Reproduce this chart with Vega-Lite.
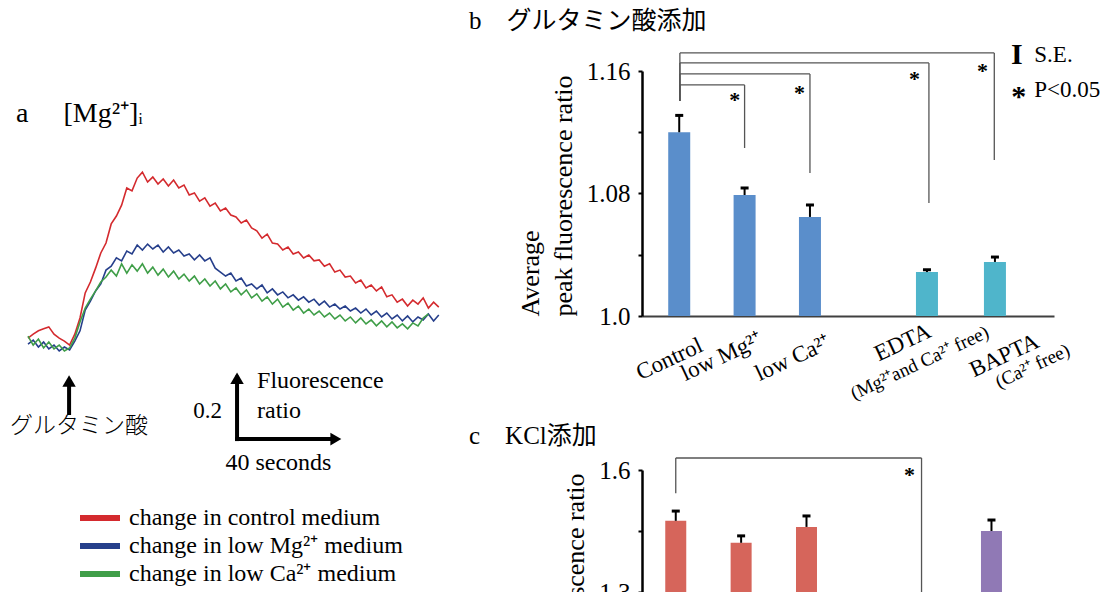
{
 "$schema": "https://vega.github.io/schema/vega-lite/v6.json",
 "background": "white",
 "padding": {"left": 9, "top": 8, "right": 0, "bottom": 0},
 "autosize": {"type": "pad"},
 "bounds": "flush",
 "spacing": 198,
 "config": {"view": {"stroke": null}, "axis": {"grid": false}, "text": {"font": "Liberation Serif", "color": "black"}, "title": {"font": "Liberation Serif, Noto Sans CJK JP", "fontWeight": "normal", "color": "black", "anchor": "start", "frame": "group"}},
 "datasets": {
  "traces": [
   {"t":0,"c":0.030,"m":0.012,"k":0.036},{"t":2,"c":0.042,"m":0.024,"k":0.009},{"t":4,"c":0.052,"m":0.003,"k":0.027},{"t":6,"c":0.058,"m":0.018,"k":0.000},{"t":8,"c":0.064,"m":-0.003,"k":0.018},{"t":10,"c":0.042,"m":0.009,"k":-0.003},{"t":12,"c":0.030,"m":-0.009,"k":0.009},{"t":14,"c":0.021,"m":0.003,"k":-0.009},{"t":16,"c":0.009,"m":-0.006,"k":0.000},{"t":18,"c":0.042,"m":0.021,"k":0.030},
   {"t":20,"c":0.091,"m":0.052,"k":0.079},{"t":22,"c":0.167,"m":0.115,"k":0.121},{"t":24,"c":0.200,"m":0.142,"k":0.148},{"t":26,"c":0.242,"m":0.173,"k":0.173},{"t":28,"c":0.288,"m":0.194,"k":0.200},{"t":30,"c":0.318,"m":0.236,"k":0.215},{"t":32,"c":0.376,"m":0.248,"k":0.236},{"t":34,"c":0.400,"m":0.273,"k":0.218},{"t":36,"c":0.433,"m":0.264,"k":0.255},{"t":38,"c":0.485,"m":0.294,"k":0.227},
   {"t":40,"c":0.476,"m":0.285,"k":0.252},{"t":42,"c":0.515,"m":0.312,"k":0.233},{"t":44,"c":0.533,"m":0.297,"k":0.255},{"t":46,"c":0.503,"m":0.315,"k":0.227},{"t":48,"c":0.518,"m":0.300,"k":0.245},{"t":50,"c":0.497,"m":0.312,"k":0.221},{"t":52,"c":0.512,"m":0.291,"k":0.239},{"t":54,"c":0.491,"m":0.306,"k":0.215},{"t":56,"c":0.509,"m":0.288,"k":0.233},{"t":58,"c":0.485,"m":0.297,"k":0.209},
   {"t":60,"c":0.494,"m":0.279,"k":0.224},{"t":62,"c":0.464,"m":0.285,"k":0.203},{"t":64,"c":0.470,"m":0.267,"k":0.218},{"t":66,"c":0.445,"m":0.282,"k":0.194},{"t":68,"c":0.455,"m":0.264,"k":0.209},{"t":70,"c":0.430,"m":0.273,"k":0.188},{"t":72,"c":0.439,"m":0.242,"k":0.203},{"t":74,"c":0.415,"m":0.230,"k":0.179},{"t":76,"c":0.424,"m":0.218,"k":0.194},{"t":78,"c":0.403,"m":0.227,"k":0.170},
   {"t":80,"c":0.397,"m":0.203,"k":0.182},{"t":82,"c":0.379,"m":0.212,"k":0.161},{"t":84,"c":0.388,"m":0.188,"k":0.176},{"t":86,"c":0.364,"m":0.194,"k":0.152},{"t":88,"c":0.355,"m":0.179,"k":0.164},{"t":90,"c":0.333,"m":0.191,"k":0.142},{"t":92,"c":0.345,"m":0.167,"k":0.155},{"t":94,"c":0.318,"m":0.179,"k":0.133},{"t":96,"c":0.315,"m":0.161,"k":0.148},{"t":98,"c":0.297,"m":0.170,"k":0.124},
   {"t":100,"c":0.306,"m":0.152,"k":0.136},{"t":102,"c":0.285,"m":0.161,"k":0.115},{"t":104,"c":0.291,"m":0.145,"k":0.127},{"t":106,"c":0.273,"m":0.155,"k":0.106},{"t":108,"c":0.282,"m":0.139,"k":0.118},{"t":110,"c":0.264,"m":0.148,"k":0.100},{"t":112,"c":0.267,"m":0.130,"k":0.112},{"t":114,"c":0.248,"m":0.142,"k":0.094},{"t":116,"c":0.255,"m":0.124,"k":0.106},{"t":118,"c":0.230,"m":0.133,"k":0.088},
   {"t":120,"c":0.236,"m":0.118,"k":0.100},{"t":122,"c":0.215,"m":0.127,"k":0.082},{"t":124,"c":0.218,"m":0.112,"k":0.094},{"t":126,"c":0.197,"m":0.121,"k":0.076},{"t":128,"c":0.206,"m":0.106,"k":0.091},{"t":130,"c":0.182,"m":0.118,"k":0.073},{"t":132,"c":0.191,"m":0.100,"k":0.085},{"t":134,"c":0.173,"m":0.112,"k":0.067},{"t":136,"c":0.185,"m":0.094,"k":0.082},{"t":138,"c":0.155,"m":0.106,"k":0.064},
   {"t":140,"c":0.161,"m":0.088,"k":0.079},{"t":142,"c":0.139,"m":0.100,"k":0.061},{"t":144,"c":0.148,"m":0.082,"k":0.073},{"t":146,"c":0.127,"m":0.097,"k":0.058},{"t":148,"c":0.145,"m":0.079,"k":0.076},{"t":150,"c":0.133,"m":0.094,"k":0.067},{"t":152,"c":0.152,"m":0.085,"k":0.091},{"t":154,"c":0.121,"m":0.103,"k":0.103},{"t":156,"c":0.139,"m":0.082},{"t":158,"c":0.124,"m":0.100}
  ],
  "gbars": [
   {"pos":1,"label":"Control","mean":1.120,"hi":1.131},
   {"pos":2,"label":"low Mg","mean":1.079,"hi":1.0836},
   {"pos":3,"label":"low Ca","mean":1.0647,"hi":1.0725},
   {"pos":4.79,"label":"EDTA","mean":1.0287,"hi":1.0302},
   {"pos":5.83,"label":"BAPTA","mean":1.0353,"hi":1.0385}
  ],
  "gsig": [
   {"from":1.01,"to":2,"level":1.1509,"drop":1.1097,"sx":1.85,"sy":1.1443,"cdrop":1.1404},
   {"from":1.01,"to":3,"level":1.1581,"drop":1.0934,"sx":2.84,"sy":1.1489,"cdrop":1.1404},
   {"from":1.01,"to":4.82,"level":1.1653,"drop":1.0738,"sx":4.6,"sy":1.158,"cdrop":1.1404},
   {"from":1.01,"to":5.82,"level":1.1718,"drop":1.1019,"sx":5.64,"sy":1.1633,"cdrop":1.1404}
  ],
  "kbars": [
   {"pos":1,"label":"Control","mean":1.475,"hi":1.499},
   {"pos":2,"label":"low Mg","mean":1.421,"hi":1.438},
   {"pos":3,"label":"low Ca","mean":1.46,"hi":1.487},
   {"pos":5.83,"label":"BAPTA","mean":1.45,"hi":1.477}
  ],
  "ksig": [
   {"from":1,"to":4.76,"level":1.6295,"drop":1.25,"sx":4.575,"sy":1.6,"cdrop":1.543}
  ]
 },
 "hconcat": [
  {
   "width": 416,
   "height": 376,
   "title": {"text": "a\u00a0\u00a0\u00a0\u00a0\u00a0[Mg²⁺]ᵢ", "fontSize": 28, "dx": -12, "offset": -71, "baseline": "middle"},
   "layer": [
    {
     "data": {"name": "traces"},
     "transform": [{"fold": ["c", "m", "k"], "as": ["series", "v"]}],
     "mark": {"type": "line", "strokeWidth": 1.6},
     "encoding": {
      "x": {"field": "t", "type": "quantitative", "scale": {"domain": [0, 160], "nice": false, "zero": false}, "axis": null},
      "y": {"field": "v", "type": "quantitative", "scale": {"domain": [-0.3, 0.8394], "nice": false, "zero": false}, "axis": null},
      "color": {"field": "series", "type": "nominal",
       "scale": {"domain": ["c", "m", "k"], "range": ["#d42a2e", "#263f8b", "#3f9e48"]},
       "legend": {"orient": "none", "legendX": 60, "legendY": 435, "title": null, "symbolType": "M-4,0L4,0", "symbolSize": 100, "symbolStrokeWidth": 6, "labelFont": "Liberation Serif", "labelFontSize": 24, "labelColor": "black", "labelOffset": 17, "rowPadding": 4, "labelLimit": 400,
        "labelExpr": "datum.label == 'c' ? 'change in control medium' : (datum.label == 'm' ? 'change in low Mg²⁺ medium' : 'change in low Ca²⁺ medium')"}}
     }
    },
    {
     "data": {"values": [{"t": 15.8, "v": -0.197, "v2": -0.106}, {"t": 80.4, "v": -0.276, "v2": -0.09}]},
     "mark": {"type": "rule", "strokeWidth": 4, "color": "black", "strokeCap": "square"},
     "encoding": {"x": {"field": "t", "type": "quantitative"}, "y": {"field": "v", "type": "quantitative"}, "y2": {"field": "v2"}}
    },
    {
     "data": {"values": [{"t": 80.4, "t2": 116, "v": -0.276}]},
     "mark": {"type": "rule", "strokeWidth": 4, "color": "black", "strokeCap": "square"},
     "encoding": {"x": {"field": "t", "type": "quantitative"}, "x2": {"field": "t2"}, "y": {"field": "v", "type": "quantitative"}}
    },
    {
     "data": {"values": [{"t": 15.8, "v": -0.100}, {"t": 80.4, "v": -0.0915}]},
     "mark": {"type": "point", "shape": "triangle-up", "size": 180, "filled": true, "color": "black", "opacity": 1},
     "encoding": {"x": {"field": "t", "type": "quantitative"}, "y": {"field": "v", "type": "quantitative"}}
    },
    {
     "data": {"values": [{"t": 118.4, "v": -0.276}]},
     "mark": {"type": "point", "shape": "triangle-right", "size": 160, "filled": true, "color": "black", "opacity": 1},
     "encoding": {"x": {"field": "t", "type": "quantitative"}, "y": {"field": "v", "type": "quantitative"}}
    },
    {
     "data": {"values": [{"t": 74.6, "v": -0.191, "txt": "0.2"}]},
     "mark": {"type": "text", "align": "right", "baseline": "middle", "fontSize": 23, "font": "Liberation Serif"},
     "encoding": {"x": {"field": "t", "type": "quantitative"}, "y": {"field": "v", "type": "quantitative"}, "text": {"field": "txt"}}
    },
    {
     "data": {"values": [{"t": 88.1, "v": -0.1, "txt": "Fluorescence"}, {"t": 88.1, "v": -0.191, "txt": "ratio"}]},
     "mark": {"type": "text", "align": "left", "baseline": "middle", "fontSize": 24, "font": "Liberation Serif"},
     "encoding": {"x": {"field": "t", "type": "quantitative"}, "y": {"field": "v", "type": "quantitative"}, "text": {"field": "txt"}}
    },
    {
     "data": {"values": [{"t": 96.3, "v": -0.348, "txt": "40 seconds"}]},
     "mark": {"type": "text", "align": "center", "baseline": "middle", "fontSize": 24, "font": "Liberation Serif"},
     "encoding": {"x": {"field": "t", "type": "quantitative"}, "y": {"field": "v", "type": "quantitative"}, "text": {"field": "txt"}}
    },
    {
     "data": {"values": [{"t": 19.6, "v": -0.236, "txt": "グルタミン酸"}]},
     "mark": {"type": "text", "align": "center", "baseline": "middle", "fontSize": 23, "font": "Noto Sans CJK JP", "fontWeight": 300},
     "encoding": {"x": {"field": "t", "type": "quantitative"}, "y": {"field": "v", "type": "quantitative"}, "text": {"field": "txt"}}
    }
   ]
  },
  {
   "vconcat": [
    {
     "width": 412,
     "height": 245,
     "title": {"text": "b\u00a0\u00a0\u00a0\u00a0グルタミン酸添加", "fontSize": 25, "dx": -173, "offset": -6, "baseline": "middle"},
     "layer": [
      {
       "data": {"name": "gbars"},
       "mark": {"type": "bar", "size": 22},
       "encoding": {
        "x": {"field": "pos", "type": "quantitative", "scale": {"domain": [0.507, 6.657], "nice": false, "zero": false},
         "axis": {"domain": true, "domainColor": "#404040", "domainWidth": 2, "ticks": false, "labels": false, "title": null}},
        "y": {"field": "mean", "type": "quantitative", "scale": {"domain": [1, 1.16], "nice": false, "zero": false},
         "axis": {"values": [1, 1.04, 1.08, 1.12, 1.16],
          "labelExpr": "datum.value == 1 ? '1.0' : (abs(datum.value - 1.08) < 0.001 ? '1.08' : (abs(datum.value - 1.16) < 0.001 ? '1.16' : ''))",
          "domainColor": "black", "domainWidth": 2.5, "tickColor": "black", "tickSize": 4, "tickWidth": 2,
          "labelFont": "Liberation Serif", "labelFontSize": 25, "labelColor": "black", "labelPadding": 8,
          "title": ["Average", "peak fluorescence ratio"], "titleFont": "Liberation Serif", "titleFontSize": 26, "titleFontWeight": "normal", "titleColor": "black", "titleAnchor": "start", "titleLineHeight": 33, "titlePadding": 10}},
        "y2": {"datum": 1},
        "color": {"condition": {"test": "datum.pos > 4", "value": "#4fb5cb"}, "value": "#5a8ecb"}
       }
      },
      {
       "data": {"name": "gbars"},
       "mark": {"type": "rule", "strokeWidth": 2, "color": "black"},
       "encoding": {"x": {"field": "pos", "type": "quantitative"}, "y": {"field": "mean", "type": "quantitative"}, "y2": {"field": "hi"}}
      },
      {
       "data": {"name": "gbars"},
       "mark": {"type": "point", "shape": "stroke", "size": 64, "strokeWidth": 3, "color": "black", "opacity": 1},
       "encoding": {"x": {"field": "pos", "type": "quantitative"}, "y": {"field": "hi", "type": "quantitative"}}
      },
      {
       "data": {"name": "gsig"},
       "mark": {"type": "rule", "strokeWidth": 1.3, "color": "#555555"},
       "encoding": {"x": {"field": "from", "type": "quantitative"}, "x2": {"field": "to"}, "y": {"field": "level", "type": "quantitative"}}
      },
      {
       "data": {"name": "gsig"},
       "mark": {"type": "rule", "strokeWidth": 1.3, "color": "#555555"},
       "encoding": {"x": {"field": "to", "type": "quantitative"}, "y": {"field": "level", "type": "quantitative"}, "y2": {"field": "drop"}}
      },
      {
       "data": {"name": "gsig"},
       "mark": {"type": "rule", "strokeWidth": 1.3, "color": "#555555"},
       "encoding": {"x": {"field": "from", "type": "quantitative"}, "y": {"field": "level", "type": "quantitative"}, "y2": {"field": "cdrop"}}
      },
      {
       "data": {"name": "gsig"},
       "mark": {"type": "text", "fontSize": 22, "fontWeight": "bold", "baseline": "middle", "align": "center", "dy": 5, "font": "Liberation Serif"},
       "encoding": {"x": {"field": "sx", "type": "quantitative"}, "y": {"field": "sy", "type": "quantitative"}, "text": {"value": "*"}}
      },
      {
       "data": {"values": [{"px": 6.164, "py": 1.1705, "txt": "I"}]},
       "mark": {"type": "text", "fontSize": 30, "fontWeight": "bold", "baseline": "middle", "align": "center", "font": "Liberation Serif"},
       "encoding": {"x": {"field": "px", "type": "quantitative"}, "y": {"field": "py", "type": "quantitative"}, "text": {"field": "txt"}}
      },
      {
       "data": {"values": [{"px": 6.194, "py": 1.1476, "txt": "*"}]},
       "mark": {"type": "text", "fontSize": 30, "fontWeight": "bold", "baseline": "middle", "align": "center", "dy": 7, "font": "Liberation Serif"},
       "encoding": {"x": {"field": "px", "type": "quantitative"}, "y": {"field": "py", "type": "quantitative"}, "text": {"field": "txt"}}
      },
      {
       "data": {"values": [{"px": 6.432, "py": 1.1705, "txt": "S.E."}, {"px": 6.432, "py": 1.1476, "txt": "P<0.05"}]},
       "mark": {"type": "text", "fontSize": 23, "baseline": "middle", "align": "left", "font": "Liberation Serif"},
       "encoding": {"x": {"field": "px", "type": "quantitative"}, "y": {"field": "py", "type": "quantitative"}, "text": {"field": "txt"}}
      },
      {
       "data": {"values": [{"pos": 1, "base": 1, "txt": "Control"}]},
       "mark": {"type": "text", "angle": -25, "align": "right", "baseline": "top", "dx": 8, "dy": 23.9, "fontSize": 23, "font": "Liberation Serif"},
       "encoding": {"x": {"field": "pos", "type": "quantitative"}, "y": {"field": "base", "type": "quantitative"}, "text": {"field": "txt"}}
      },
      {
       "data": {"values": [{"pos": 2, "base": 1, "txt": "low Mg²⁺"}]},
       "mark": {"type": "text", "angle": -25, "align": "right", "baseline": "top", "dx": 5.8, "dy": 16, "fontSize": 23, "font": "Liberation Serif"},
       "encoding": {"x": {"field": "pos", "type": "quantitative"}, "y": {"field": "base", "type": "quantitative"}, "text": {"field": "txt"}}
      },
      {
       "data": {"values": [{"pos": 3, "base": 1, "txt": "low Ca²⁺"}]},
       "mark": {"type": "text", "angle": -25, "align": "right", "baseline": "top", "dx": 7.3, "dy": 19.9, "fontSize": 23, "font": "Liberation Serif"},
       "encoding": {"x": {"field": "pos", "type": "quantitative"}, "y": {"field": "base", "type": "quantitative"}, "text": {"field": "txt"}}
      },
      {
       "data": {"values": [{"pos": 4.79, "base": 1, "txt": "EDTA"}]},
       "mark": {"type": "text", "angle": -25, "align": "right", "baseline": "top", "dx": -3.5, "dy": 2.8, "fontSize": 23, "font": "Liberation Serif"},
       "encoding": {"x": {"field": "pos", "type": "quantitative"}, "y": {"field": "base", "type": "quantitative"}, "text": {"field": "txt"}}
      },
      {
       "data": {"values": [{"pos": 4.79, "base": 1, "txt": "(Mg²⁺and Ca²⁺ free)"}]},
       "mark": {"type": "text", "angle": -25, "align": "right", "baseline": "top", "dx": 48.6, "dy": 30.4, "fontSize": 19, "font": "Liberation Serif"},
       "encoding": {"x": {"field": "pos", "type": "quantitative"}, "y": {"field": "base", "type": "quantitative"}, "text": {"field": "txt"}}
      },
      {
       "data": {"values": [{"pos": 5.83, "base": 1, "txt": "BAPTA"}]},
       "mark": {"type": "text", "angle": -25, "align": "right", "baseline": "top", "dx": 28.5, "dy": 28.8, "fontSize": 23, "font": "Liberation Serif"},
       "encoding": {"x": {"field": "pos", "type": "quantitative"}, "y": {"field": "base", "type": "quantitative"}, "text": {"field": "txt"}}
      },
      {
       "data": {"values": [{"pos": 5.83, "base": 1, "txt": "(Ca²⁺ free)"}]},
       "mark": {"type": "text", "angle": -25, "align": "right", "baseline": "top", "dx": 52.8, "dy": 52.3, "fontSize": 19, "font": "Liberation Serif"},
       "encoding": {"x": {"field": "pos", "type": "quantitative"}, "y": {"field": "base", "type": "quantitative"}, "text": {"field": "txt"}}
      }
     ]
    },
    {
     "width": 412,
     "height": 244,
     "title": {"text": "c\u00a0\u00a0\u00a0\u00a0KCl添加", "fontSize": 25, "dx": -173, "offset": -4, "baseline": "middle"},
     "layer": [
      {
       "data": {"name": "kbars"},
       "mark": {"type": "bar", "size": 21},
       "encoding": {
        "x": {"field": "pos", "type": "quantitative", "scale": {"domain": [0.56, 6.71], "nice": false, "zero": false},
         "axis": {"domain": true, "domainColor": "#404040", "domainWidth": 2, "ticks": false, "labels": false, "title": null}},
        "y": {"field": "mean", "type": "quantitative", "scale": {"domain": [1, 1.6], "nice": false, "zero": false},
         "axis": {"values": [1, 1.15, 1.3, 1.45, 1.6],
          "labelExpr": "datum.value == 1 ? '1.0' : (abs(datum.value - 1.3) < 0.001 ? '1.3' : (abs(datum.value - 1.6) < 0.001 ? '1.6' : ''))",
          "domainColor": "black", "domainWidth": 2.5, "tickColor": "black", "tickSize": 4, "tickWidth": 2,
          "labelFont": "Liberation Serif", "labelFontSize": 25, "labelColor": "black", "labelPadding": 8,
          "title": ["Average", "peak fluorescence ratio"], "titleFont": "Liberation Serif", "titleFontSize": 26, "titleFontWeight": "normal", "titleColor": "black", "titleAnchor": "start", "titleLineHeight": 33, "titlePadding": 10}},
        "y2": {"datum": 1},
        "color": {"condition": {"test": "datum.pos > 4", "value": "#9079b5"}, "value": "#d6655b"}
       }
      },
      {
       "data": {"name": "kbars"},
       "mark": {"type": "rule", "strokeWidth": 2, "color": "black"},
       "encoding": {"x": {"field": "pos", "type": "quantitative"}, "y": {"field": "mean", "type": "quantitative"}, "y2": {"field": "hi"}}
      },
      {
       "data": {"name": "kbars"},
       "mark": {"type": "point", "shape": "stroke", "size": 64, "strokeWidth": 3, "color": "black", "opacity": 1},
       "encoding": {"x": {"field": "pos", "type": "quantitative"}, "y": {"field": "hi", "type": "quantitative"}}
      },
      {
       "data": {"name": "ksig"},
       "mark": {"type": "rule", "strokeWidth": 1.3, "color": "#555555"},
       "encoding": {"x": {"field": "from", "type": "quantitative"}, "x2": {"field": "to"}, "y": {"field": "level", "type": "quantitative"}}
      },
      {
       "data": {"name": "ksig"},
       "mark": {"type": "rule", "strokeWidth": 1.3, "color": "#555555"},
       "encoding": {"x": {"field": "to", "type": "quantitative"}, "y": {"field": "level", "type": "quantitative"}, "y2": {"field": "drop"}}
      },
      {
       "data": {"name": "ksig"},
       "mark": {"type": "rule", "strokeWidth": 1.3, "color": "#555555"},
       "encoding": {"x": {"field": "from", "type": "quantitative"}, "y": {"field": "level", "type": "quantitative"}, "y2": {"field": "cdrop"}}
      },
      {
       "data": {"name": "ksig"},
       "mark": {"type": "text", "fontSize": 22, "fontWeight": "bold", "baseline": "middle", "align": "center", "dy": 5, "font": "Liberation Serif"},
       "encoding": {"x": {"field": "sx", "type": "quantitative"}, "y": {"field": "sy", "type": "quantitative"}, "text": {"value": "*"}}
      }
     ]
    }
   ],
   "spacing": 154,
   "bounds": "flush"
  }
 ]
}
